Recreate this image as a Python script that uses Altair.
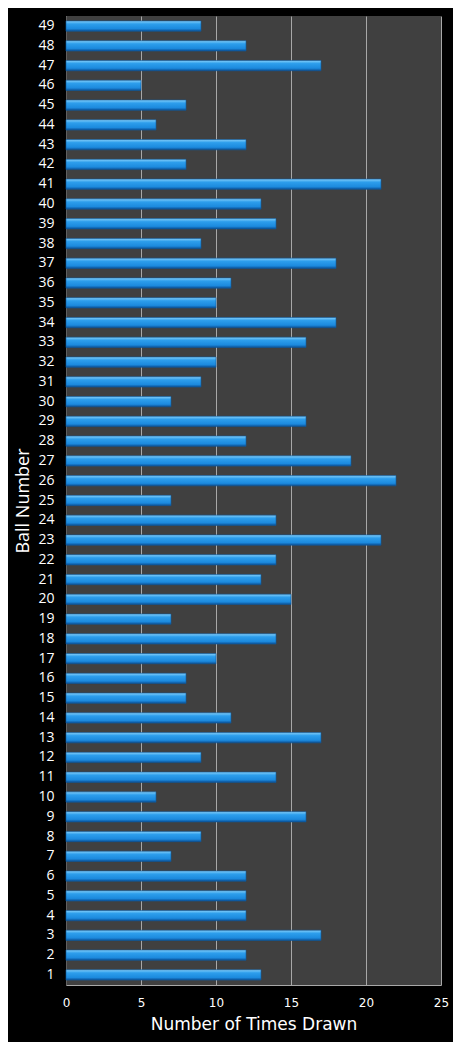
import pandas as pd
import altair as alt

# Ball numbers 1..49 and how often each was drawn
balls = list(range(1, 50))
times_drawn = [13, 12, 17, 12, 12, 12, 7, 9, 16, 6,
               14, 9, 17, 11, 8, 8, 10, 14, 7, 15,
               13, 14, 21, 14, 7, 22, 19, 12, 16, 7,
               9, 10, 16, 18, 10, 11, 18, 9, 14, 13,
               21, 8, 12, 6, 8, 5, 17, 12, 9]
x_ticks = [0, 5, 10, 15, 20, 25]

df = pd.DataFrame({'Ball': balls, 'Times': times_drawn})

bar_fill = alt.Gradient(
    gradient='linear', x1=0, y1=0, x2=0, y2=1,
    stops=[alt.GradientStop(offset=0, color='#86d0fa'),
           alt.GradientStop(offset=0.3, color='#2d9eec'),
           alt.GradientStop(offset=0.75, color='#1c8ade'),
           alt.GradientStop(offset=1, color='#0b4f94')]
)

bars = alt.Chart(df).mark_bar(color=bar_fill, stroke='#0d5aa0', strokeWidth=0.6).encode(
    x=alt.X('Times:Q', title='Number of Times Drawn',
            scale=alt.Scale(domain=[0, 25], nice=False),
            axis=alt.Axis(values=x_ticks, grid=True, gridColor='#a8a8a8', gridWidth=1,
                          domainColor='#a8a8a8', ticks=False, labelPadding=12, labelFlush=False,
                          labelFont='DejaVu Sans', labelFontSize=12, labelColor='#ffffff',
                          titleFont='DejaVu Sans', titleFontSize=17, titleFontWeight='normal',
                          titleColor='#ffffff', titlePadding=8)),
    y=alt.Y('Ball:O', title='Ball Number', sort='descending',
            scale=alt.Scale(paddingInner=0.48, paddingOuter=0.25),
            axis=alt.Axis(ticks=False, domainColor='#606060', labelPadding=12,
                          labelFont='Open Sans', labelFontSize=14, labelColor='#ffffff',
                          titleFont='Open Sans', titleFontSize=18, titleFontWeight='normal',
                          titleColor='#ffffff', titlePadding=5))
)

chart = bars.properties(
    width=375, height=969,
    background='#000000',
    padding={'left': 58, 'top': 8, 'right': 12, 'bottom': 57},
    autosize=alt.AutoSizeParams(type='none')
).configure_view(fill='#404040', stroke=None)

chart.save("out.html", embed_options={"renderer": "svg", "actions": False})
